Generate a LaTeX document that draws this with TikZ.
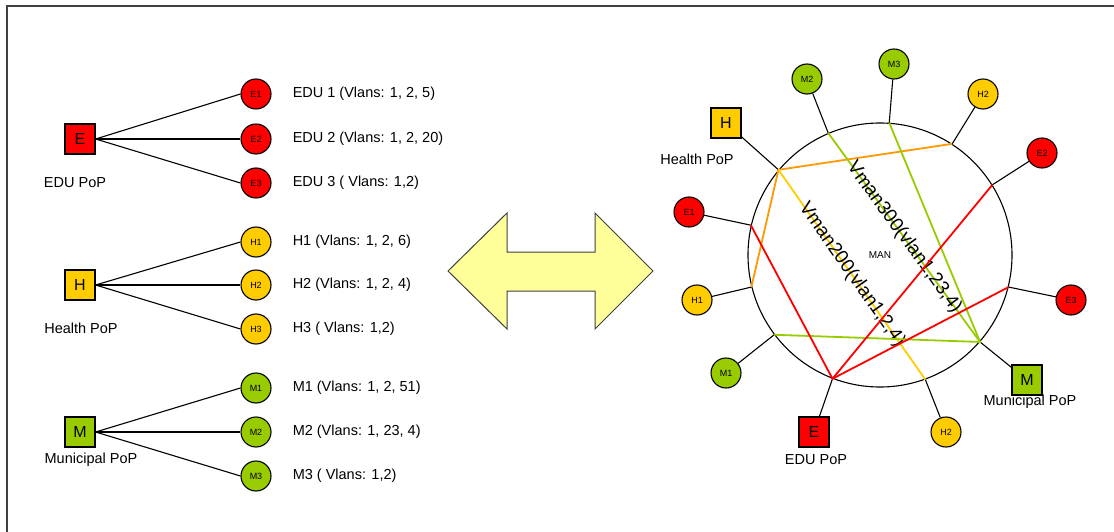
\documentclass[tikz,border=0pt]{standalone}
\usepackage{fontspec}
\setmainfont{Liberation Sans}
\usetikzlibrary{positioning}

\definecolor{edured}{RGB}{255,0,0}
\definecolor{healthyel}{RGB}{255,204,0}
\definecolor{munigreen}{RGB}{153,204,0}
\definecolor{linkorange}{RGB}{255,153,0}
\definecolor{arrowfill}{RGB}{255,255,153}
\definecolor{framegray}{RGB}{64,64,64}

\tikzset{
  pop/.style={draw, line width=1.2pt, minimum size=30pt, inner sep=0pt, font=\fontsize{16}{16}\selectfont},
  site/.style={circle, draw, line width=1.1pt, minimum size=30pt, inner sep=0pt, font=\fontsize{9}{9}\selectfont},
  vlantext/.style={anchor=west, inner sep=0pt, font=\fontsize{14.5}{14.5}\selectfont},
  poptext/.style={inner sep=0pt, font=\fontsize{14.5}{14.5}\selectfont},
  vmantext/.style={inner sep=0pt, sloped, font=\fontsize{19}{19}\selectfont},
  link/.style={line width=1.1pt},
  vman/.style={line width=1.8pt},
}

\begin{document}
\begin{tikzpicture}[x=1pt, y=-1pt]

\useasboundingbox (0,0) rectangle (1114,532);
\draw[line width=2pt, framegray] (7,545) |- (1125,6);

% EDU tree
\node[pop, fill=edured] (edu) at (80,139) {E};
\node[poptext] at (75,183) {EDU PoP};
\node[site, fill=edured] (e1) at (256,94) {E1};
\node[site, fill=edured] (e2) at (256,139) {E2};
\node[site, fill=edured] (e3) at (256,183) {E3};
\node[vlantext, right=21pt of e1] {EDU 1 (Vlans: 1, 2, 5)};
\node[vlantext, right=21pt of e2] {EDU 2 (Vlans: 1, 2, 20)};
\node[vlantext, right=21pt of e3] {EDU 3 ( Vlans: 1,2)};
\foreach \i in {1,2,3}
  \draw[link] (edu.east) -- (e\i.west);

% Health tree
\node[pop, fill=healthyel] (health) at (80,285) {H};
\node[poptext] at (81,328) {Health PoP};
\node[site, fill=healthyel] (h1) at (256,242) {H1};
\node[site, fill=healthyel] (h2) at (256,285) {H2};
\node[site, fill=healthyel] (h3) at (256,329) {H3};
\node[vlantext, right=21pt of h1] {H1 (Vlans: 1, 2, 6)};
\node[vlantext, right=21pt of h2] {H2 (Vlans: 1, 2, 4)};
\node[vlantext, right=21pt of h3] {H3 ( Vlans: 1,2)};
\foreach \i in {1,2,3}
  \draw[link] (health.east) -- (h\i.west);

% Municipal tree
\node[pop, fill=munigreen] (muni) at (80,432) {M};
\node[poptext] at (91,460) {Municipal PoP};
\node[site, fill=munigreen] (m1) at (256,388) {M1};
\node[site, fill=munigreen] (m2) at (256,432) {M2};
\node[site, fill=munigreen] (m3) at (256,476) {M3};
\node[vlantext, right=21pt of m1] {M1 (Vlans: 1, 2, 51)};
\node[vlantext, right=21pt of m2] {M2 (Vlans: 1, 23, 4)};
\node[vlantext, right=21pt of m3] {M3 ( Vlans: 1,2)};
\foreach \i in {1,2,3}
  \draw[link] (muni.east) -- (m\i.west);

% double arrow
\draw[line width=1pt, draw=framegray, fill=arrowfill]
  (448,271) -- (507,213) -- (507,252) -- (595,252) -- (595,213) -- (653,271)
  -- (595,329) -- (595,291) -- (507,291) -- (507,329) -- cycle;

% MAN ring
\node[circle, draw, line width=1.1pt, minimum size=264pt, inner sep=0pt,
      font=\fontsize{10}{10}\selectfont] (man) at (880,255) {MAN};

\node[pop, fill=healthyel] (rh) at (726,123) {H};
\node[poptext] at (697,159) {Health PoP};
\node[site, fill=munigreen] (rm2) at (807,79) {M2};
\node[site, fill=munigreen] (rm3) at (894,64) {M3};
\node[site, fill=healthyel] (rh2a) at (983,94) {H2};
\node[site, fill=edured] (re2) at (1042,153) {E2};
\node[site, fill=edured] (re3) at (1071,300) {E3};
\node[pop, fill=munigreen] (rm) at (1027,380) {M};
\node[poptext] at (1030,402) {Municipal PoP};
\node[site, fill=healthyel] (rh2b) at (946,432) {H2};
\node[pop, fill=edured] (re) at (814,432) {E};
\node[poptext] at (816,460) {EDU PoP};
\node[site, fill=munigreen] (rm1) at (726,373) {M1};
\node[site, fill=healthyel] (rh1) at (697,300) {H1};
\node[site, fill=edured] (re1) at (689,212) {E1};

% spokes
\draw[link] (man.140) -- (rh);
\draw[link] (man.113) -- (rm2);
\draw[link] (man.86) -- (rm3);
\draw[link] (man.57) -- (rh2a);
\draw[link] (man.32) -- (re2);
\draw[link] (man.346.5) -- (re3);
\draw[link] (man.319) -- (rm);
\draw[link] (man.290) -- (rh2b);
\draw[link] (man.249.4) -- (re);
\draw[link] (man.217.7) -- (rm1);
\draw[link] (man.194) -- (rh1);
\draw[link] (man.167) -- (re1);

% vlans through the ring
\draw[vman, linkorange] (man.57) -- (man.140) -- (man.194);
\draw[vman, healthyel] (man.140) -- node[vmantext, text=black] {Vman200(vlan1,2,4)} (man.290);
\draw[vman, munigreen] (man.113) -- node[vmantext, text=black] {Vman300(vlan1,23,4)} (man.319);
\draw[vman, munigreen] (man.86) -- (man.319) -- (man.217.7);
\draw[vman, edured] (man.167) -- (man.249.4) -- (man.32);
\draw[vman, edured] (man.249.4) -- (man.346.5);

\end{tikzpicture}
\end{document}
